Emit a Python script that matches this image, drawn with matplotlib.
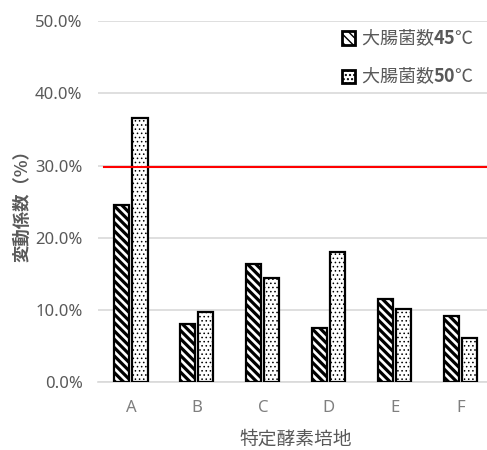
import matplotlib
matplotlib.use('Agg')
import matplotlib.pyplot as plt
import numpy as np

plt.rcParams['font.family'] = ['Noto Sans CJK JP', 'DejaVu Sans']
plt.rcParams['hatch.color'] = 'black'
plt.rcParams['mathtext.fontset'] = 'custom'
plt.rcParams['mathtext.rm'] = 'Noto Sans CJK JP'
plt.rcParams['mathtext.bf'] = 'Noto Sans CJK JP:bold'

# 培地ごとの変動係数
media = ['A', 'B', 'C', 'D', 'E', 'F']
cv_45 = [0.245, 0.080, 0.163, 0.075, 0.115, 0.091]
cv_50 = [0.366, 0.097, 0.144, 0.180, 0.101, 0.061]
series_names = [r'大腸菌数$\mathbf{45}$℃', r'大腸菌数$\mathbf{50}$℃']
limit = 0.298  # 基準線
yticks = [0.0, 0.1, 0.2, 0.3, 0.4, 0.5]

grey = '#595959'

fig = plt.figure(figsize=(4.87, 4.50), dpi=100)
ax = fig.add_axes([0.201, 0.151, 0.813, 0.802])

x = np.arange(len(media))
w = 0.23
off = 0.137
b1 = ax.bar(x - off, cv_45, w, color='white', edgecolor='black',
            linewidth=1.6, hatch='\\\\\\\\', label=series_names[0], zorder=3)
b2 = ax.bar(x + off, cv_50, w, color='white', edgecolor='black',
            linewidth=1.6, hatch='....', label=series_names[1], zorder=3)
for p in b1:
    p.set_hatch_linewidth(2.3)
for p in b2:
    p.set_hatch_linewidth(0.6)

ax.plot([-0.4, 5.6], [limit, limit], color='#ff0000', lw=1.5, zorder=4)

ax.set_xlim(-0.5, 5.5)
ax.set_ylim(0, 0.5)
ax.set_yticks(yticks)
ax.set_yticklabels(['%.1f%%' % (v * 100) for v in yticks],
                   fontfamily=['Noto Sans', 'DejaVu Sans'])
ax.set_xticks(x)
ax.set_xticklabels(media, fontfamily=['Noto Sans', 'DejaVu Sans'],
                   color='#7f7f7f')
ax.tick_params(axis='y', length=0, labelsize=12, labelcolor=grey, pad=11)
ax.tick_params(axis='x', length=0, labelsize=12, pad=13)

ax.grid(axis='y', color='#d9d9d9', lw=1.2, zorder=0)
for s in ['top', 'right', 'left']:
    ax.spines[s].set_visible(False)
ax.spines['bottom'].set_color('#d9d9d9')
ax.spines['bottom'].set_linewidth(1.2)

ax.set_xlabel('特定酵素培地', fontsize=13.5, color=grey, labelpad=9)
ax.set_ylabel('変動係数（%）', fontsize=12.5, color=grey,
              fontweight='bold', labelpad=3)

leg = ax.legend(loc='upper right', bbox_to_anchor=(0.99, 1.03), frameon=False,
                fontsize=13, labelcolor=grey, handlelength=0.75,
                handleheight=0.75, handletextpad=0.3, labelspacing=0.9)
for h in leg.legend_handles:
    h.set_linewidth(2.0)

fig.savefig('out.png', dpi=100)
